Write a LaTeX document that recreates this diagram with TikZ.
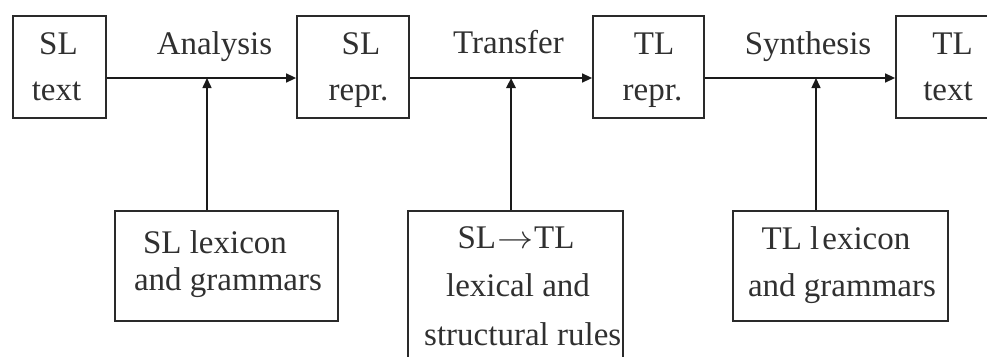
\documentclass[tikz,border=0pt]{standalone}
\usepackage{fontspec}
\usepackage{graphicx}
\setmainfont{Liberation Serif}
\usetikzlibrary{arrows.meta}
\definecolor{boxc}{HTML}{2A2A2A}
\definecolor{linec}{HTML}{1A1A1A}
\definecolor{txtc}{HTML}{303030}
\begin{document}
\begin{tikzpicture}[x=1pt,y=-1pt,
  box/.style={draw=boxc, line width=1.8pt, rectangle, inner sep=0pt, minimum height=102pt},
  lbl/.style={anchor=base, inner sep=0pt, text=txtc, font=\fontsize{33}{40}\selectfont},
  arr/.style={draw=linec, line width=1.5pt, -{Triangle[length=10pt,width=9pt]}},
]
\useasboundingbox (0,0) rectangle (987,356);
\clip (0,0) rectangle (987,356);

% top boxes
\node[box, minimum width=93pt]  (sltext) at (59.5,67) {};
\node[box, minimum width=112pt] (slrepr) at (353,67) {};
\node[box, minimum width=111pt] (tlrepr) at (648.5,67) {};
\node[box, minimum width=113pt] (tltext) at (952.5,67) {};

% bottom boxes
\node[box, minimum width=223pt, minimum height=110pt] (slb) at (226.5,266) {};
\node[box, minimum width=215pt, minimum height=180pt] (mid) at (515.5,301) {};
\node[box, minimum width=215pt, minimum height=110pt] (tlb) at (840.5,266) {};

% texts in top boxes
\node[lbl] (t1a) at (58.5,54) {SL};
\node[lbl] (t1b) at (56.5,100) {text};
\node[lbl] (t2a) at (361,54) {SL};
\node[lbl] (t2b) at (358.5,100) {repr.};
\node[lbl] (t3a) at (654,54) {TL};
\node[lbl] (t3b) at (652.5,100) {repr.};
\node[lbl] (t4a) at (952.5,54) {TL};
\node[lbl] (t4b) at (948,100) {text};

% process labels
\node[lbl] (lana) at (214.5,54) {Analysis};
\node[lbl] (ltra) at (508.5,53) {Transfer};
\node[lbl] (lsyn) at (808,54) {Synthesis};

% texts in bottom boxes
\node[lbl] (b1a) at (215,253) {SL lexicon};
\node[lbl] (b1b) at (228,290) {and grammars};
\node[lbl] (b2a) at (516,248) {SL\kern1pt\scalebox{1.45}[1.3]{$\rightarrow$}\kern1pt TL};
\node[lbl] (b2b) at (518,296) {lexical and};
\node[lbl, anchor=base west] (b2c) at (424,345) {structural rules};
\node[lbl] (b3a) at (836,249) {TL l\kern3pt exicon};
\node[lbl] (b3b) at (842,296) {and grammars};

% main line arrows
\coordinate (mainy) at (0,78);
\draw[arr] (sltext.east |- mainy) -- (slrepr.west |- mainy);
\draw[arr] (slrepr.east |- mainy) -- (tlrepr.west |- mainy);
\draw[arr] (tlrepr.east |- mainy) -- (tltext.west |- mainy);

% vertical arrows
\coordinate (va) at (207,78);
\coordinate (vt) at (511,78);
\coordinate (vs) at (816,78);
\draw[arr] (va |- slb.north) -- (va);
\draw[arr, line width=2.5pt] (vt |- mid.north) -- (vt);
\draw[arr] (vs |- tlb.north) -- (vs);
\end{tikzpicture}
\end{document}
